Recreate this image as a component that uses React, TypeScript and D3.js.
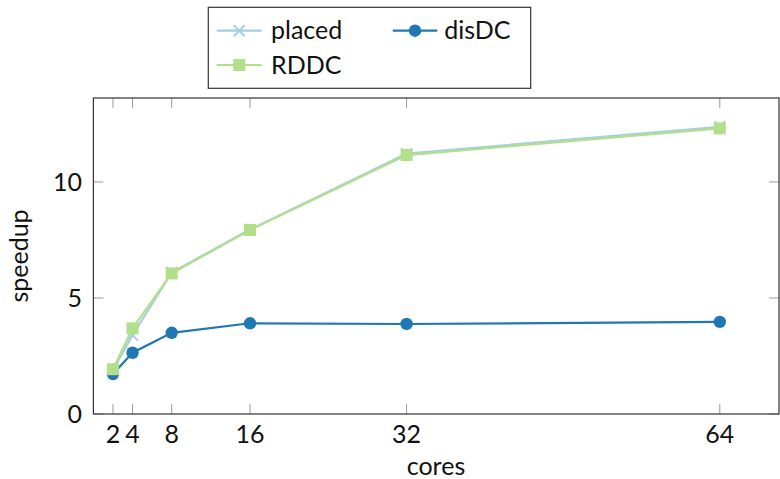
import React from "react";
import * as d3 from "d3";

const cores = [2, 4, 8, 16, 32, 64];
const placed = [1.9, 3.4, 6.1, 7.95, 11.22, 12.38];
const rddc = [1.93, 3.69, 6.06, 7.93, 11.16, 12.31];
const disdc = [1.72, 2.64, 3.5, 3.91, 3.88, 3.97];
const xTicks = [2, 4, 8, 16, 32, 64];
const yTicks = [0, 5, 10];

const W = 780, H = 479;
const L = 93.4, R = 779, T = 98, B = 414;
const FONT = "Lato, 'DejaVu Sans', sans-serif";

export default function App() {
  const x = d3.scaleLinear().domain([0, 70.05]).range([L, R]);
  const y = d3.scaleLinear().domain([0, 13.62]).range([B, T]);
  const line = d3.line<[number, number]>().x(d => x(d[0])).y(d => y(d[1]));
  const pts = (vals: number[]) => cores.map((c, i) => [c, vals[i]] as [number, number]);
  const cP = "#a6cee3", cR = "#b2df8a", cD = "#1f78b4";
  const cross = (cx: number, cy: number, s: number, col: string, k: string) => (
    <g key={k} stroke={col} strokeWidth={2}>
      <line x1={cx - s} y1={cy - s} x2={cx + s} y2={cy + s} />
      <line x1={cx - s} y1={cy + s} x2={cx + s} y2={cy - s} />
    </g>
  );
  return (
    <svg width={W} height={H} style={{ position: "absolute", left: 0, top: 0 }} fontFamily={FONT}>
      <rect x={0} y={0} width={W} height={H} fill="#fff" />
      {/* ticks */}
      {xTicks.map(t => (
        <g key={"xt" + t} stroke="#9a9a9a" strokeWidth={1}>
          <line x1={x(t)} x2={x(t)} y1={B} y2={B - 10} />
          <line x1={x(t)} x2={x(t)} y1={T} y2={T + 10} />
        </g>
      ))}
      {yTicks.map(t => (
        <g key={"yt" + t} stroke="#9a9a9a" strokeWidth={1}>
          <line x1={L} x2={L + 10} y1={y(t)} y2={y(t)} />
          <line x1={R} x2={R - 10} y1={y(t)} y2={y(t)} />
        </g>
      ))}
      {/* series: placed, disDC, RDDC (drawing order) */}
      <path d={line(pts(placed))!} fill="none" stroke={cP} strokeWidth={2.2} />
      {pts(placed).map((p, i) => cross(x(p[0]), y(p[1]), 5.5, cP, "pc" + i))}
      <path d={line(pts(disdc))!} fill="none" stroke={cD} strokeWidth={2.2} />
      {pts(disdc).map((p, i) => (
        <circle key={"dc" + i} cx={x(p[0])} cy={y(p[1])} r={6.2} fill={cD} />
      ))}
      <path d={line(pts(rddc))!} fill="none" stroke={cR} strokeWidth={2.2} />
      {pts(rddc).map((p, i) => (
        <rect key={"rs" + i} x={x(p[0]) - 6} y={y(p[1]) - 6} width={12} height={12} fill={cR} />
      ))}
      {/* frame */}
      <rect x={L} y={T} width={R - L} height={B - T} fill="none" stroke="#333" strokeWidth={1.2} />
      {/* tick labels */}
      {xTicks.map(t => (
        <text key={"xl" + t} x={x(t)} y={443} textAnchor="middle" fontSize={25} fill="#111">{t}</text>
      ))}
      {yTicks.map(t => (
        <text key={"yl" + t} x={82} y={y(t)} dy="0.35em" textAnchor="end" fontSize={25} fill="#111">{t}</text>
      ))}
      <text x={436} y={475} textAnchor="middle" fontSize={25} fill="#111">cores</text>
      <text transform={`translate(28,256) rotate(-90)`} textAnchor="middle" fontSize={25} fill="#111">speedup</text>
      {/* legend */}
      <rect x={208.3} y={7.3} width={322.4} height={81} fill="#fff" stroke="#333" strokeWidth={1.2} />
      <line x1={216.7} x2={261.7} y1={30.7} y2={30.7} stroke={cP} strokeWidth={2.2} />
      {cross(239.2, 30.7, 5.5, cP, "lc")}
      <text x={271} y={30.7} dy="0.35em" fontSize={25} fill="#111">placed</text>
      <line x1={216.7} x2={261.7} y1={65} y2={65} stroke={cR} strokeWidth={2.2} />
      <rect x={233.2} y={59} width={12} height={12} fill={cR} />
      <text x={271} y={65} dy="0.35em" fontSize={25} fill="#111">RDDC</text>
      <line x1={392.7} x2={437.3} y1={30.7} y2={30.7} stroke={cD} strokeWidth={2.2} />
      <circle cx={415} cy={30.7} r={6.2} fill={cD} />
      <text x={444.3} y={30.7} dy="0.35em" fontSize={25} fill="#111">disDC</text>
    </svg>
  );
}
